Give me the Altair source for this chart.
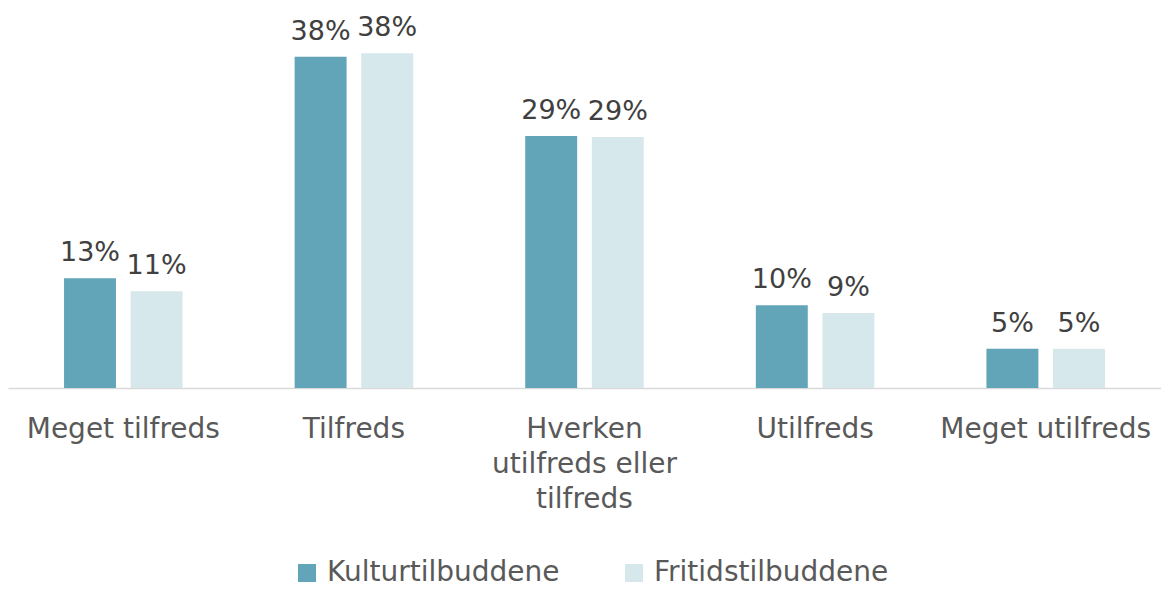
import altair as alt
import pandas as pd

categories = ["Meget tilfreds", "Tilfreds", "Hverken utilfreds eller tilfreds", "Utilfreds", "Meget utilfreds"]
series = ["Kulturtilbuddene", "Fritidstilbuddene"]
kultur = [12.6, 38.0, 28.9, 9.5, 4.5]
fritid = [11.1, 38.4, 28.8, 8.6, 4.5]
kultur_labels = ["13%", "38%", "29%", "10%", "5%"]
fritid_labels = ["11%", "38%", "29%", "9%", "5%"]
colors = ["#62A5B8", "#D6E8EC"]

rows = []
for i, c in enumerate(categories):
    rows.append({"cat": c, "serie": series[0], "value": kultur[i], "label": kultur_labels[i]})
    rows.append({"cat": c, "serie": series[1], "value": fritid[i], "label": fritid_labels[i]})
df = pd.DataFrame(rows)

FONT = "DejaVu Sans"

x = alt.X("cat:N", sort=categories, title=None,
          scale=alt.Scale(paddingInner=0.486, paddingOuter=0.243),
          axis=alt.Axis(labelAngle=0, ticks=False, domainColor="#D9D9D9", domainWidth=1.5,
                        labelFont=FONT, labelFontSize=28, labelColor="#595959",
                        labelPadding=27, labelLineHeight=35, labelLimit=400,
                        labelExpr="datum.label == 'Hverken utilfreds eller tilfreds' ? ['Hverken', 'utilfreds eller', 'tilfreds'] : datum.label"))
xo = alt.XOffset("serie:N", sort=series, scale=alt.Scale(paddingInner=0.22, paddingOuter=0))
y = alt.Y("value:Q", scale=alt.Scale(domain=[0, 43.6]), axis=None)

base = alt.Chart(df).encode(x=x, xOffset=xo, y=y)

bars = base.mark_bar().encode(
    color=alt.Color("serie:N", sort=series, scale=alt.Scale(domain=series, range=colors),
                    legend=alt.Legend(title=None, orient="none", legendX=285, legendY=551,
                                      direction="horizontal", symbolType="square", symbolSize=324,
                                      symbolStrokeWidth=0, labelFont=FONT, labelFontSize=28,
                                      labelColor="#595959", columnPadding=60, labelOffset=6,
                                      labelLimit=0))
)
texts = base.mark_text(baseline="alphabetic", dy=-17, font=FONT, fontSize=27, color="#404040").encode(
    text="label:N"
)

chart = alt.layer(bars, texts).properties(
    width=1153, height=380,
    autosize=alt.AutoSizeParams(type="none"),
    padding={"left": 0, "top": 0, "right": 0, "bottom": 202},
).configure_view(stroke=None)

chart.save("out.html", embed_options={"renderer": "svg", "actions": False})
